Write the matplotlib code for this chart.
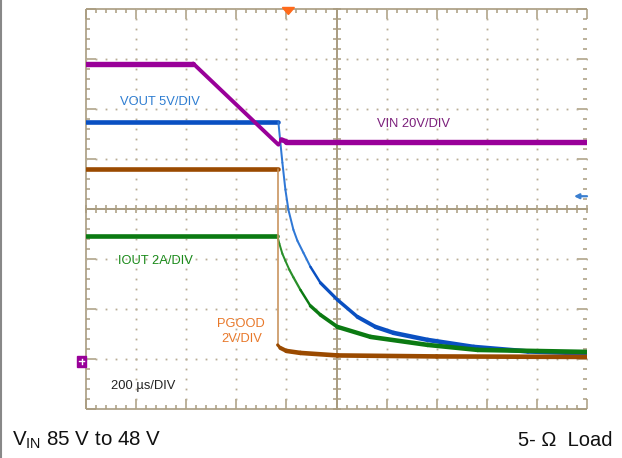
import numpy as np
import matplotlib
matplotlib.use("Agg")
import matplotlib.pyplot as plt
from matplotlib.collections import LineCollection
from matplotlib.lines import Line2D
from matplotlib.patches import Polygon, Rectangle

plt.rcParams['font.family'] = ['Liberation Sans', 'DejaVu Sans']
plt.rcParams['mathtext.fontset'] = 'custom'
plt.rcParams['mathtext.rm'] = 'Liberation Sans'

# ---- data (time in microseconds, amplitude in screen divisions) ----
vin_t = [0, 428, 768, 780, 800, 2000]
vin_v = [6.90, 6.90, 5.28, 5.38, 5.34, 5.34]

vout_t = [0, 768, 776, 784, 796, 808, 828, 844, 868, 896, 936, 1004, 1084, 1156, 1228, 1364, 1548, 1764, 2000]
vout_v = [5.73, 5.73, 5.32, 4.92, 4.38, 3.98, 3.58, 3.36, 3.12, 2.84, 2.52, 2.18, 1.84, 1.64, 1.52, 1.38, 1.24, 1.15, 1.11]

iout_t = [0, 764, 772, 784, 796, 812, 828, 856, 896, 936, 1004, 1136, 1364, 1564, 2000]
iout_v = [3.45, 3.45, 3.30, 3.10, 2.96, 2.78, 2.63, 2.38, 2.06, 1.88, 1.64, 1.44, 1.28, 1.18, 1.14]

pg_t = [0, 765, 765, 776, 800, 856, 1004, 1400, 2000]
pg_v = [4.80, 4.80, 1.28, 1.22, 1.16, 1.12, 1.07, 1.05, 1.04]

labels = ["VOUT 5V/DIV", "VIN 20V/DIV", "IOUT 2A/DIV", "PGOOD\n2V/DIV", "200 \u00b5s/DIV"]
trigger_t = 808
ground_level = 0.95
marker_level = 4.25

# ---- figure ----
W, H = 622, 458
fig = plt.figure(figsize=(W / 100, H / 100), dpi=100)
fig.patch.set_facecolor('white')
X0, X1, Y0, Y1 = 86, 587, 8.5, 409
ax = fig.add_axes([X0 / W, (H - Y1) / H, (X1 - X0) / W, (Y1 - Y0) / H])
ax.set_xlim(0, 2000)
ax.set_ylim(0, 8)
ax.axis('off')

px_x = 2000 / (X1 - X0)
px_y = 8 / (Y1 - Y0)
GC = '#a99c80'

# frame (no right edge)
for xs, ys in [([0, 0], [0, 8]), ([0, 2000], [8, 8]), ([0, 2000], [0, 0])]:
    ax.plot(xs, ys, color=GC, lw=1.2, clip_on=False, zorder=1, solid_capstyle='butt')
# center lines
ax.plot([1000, 1000], [0, 8], color=GC, lw=1.4, zorder=1, clip_on=False)
ax.plot([0, 2000], [4, 4], color=GC, lw=1.4, zorder=1, clip_on=False)

minor_x = np.arange(0, 2001, 40)
minor_y = np.round(np.arange(0, 8.001, 0.2), 3)
segs = []
for x in minor_x:
    major = abs(x % 200) < 1e-6
    L = (10 if major else 4) * px_y
    segs.append([(x, 8), (x, 8 - L)])
    segs.append([(x, 0), (x, L)])
    segs.append([(x, 4 - 4 * px_y), (x, 4 + 4 * px_y)])
for y in minor_y:
    major = abs(y - round(y)) < 1e-6
    L = (10 if major else 4) * px_x
    segs.append([(0, y), (L, y)])
    segs.append([(2000, y), (2000 - L, y)])
    segs.append([(1000 - 4 * px_x, y), (1000 + 4 * px_x, y)])
ax.add_collection(LineCollection(segs, colors=GC, linewidths=1.1, zorder=1, clip_on=False))

# dotted grid
dx, dy = [], []
for gx in range(200, 2000, 200):
    if gx == 1000:
        continue
    dx += [gx] * len(minor_y)
    dy += list(minor_y)
for gy in range(1, 8):
    if gy == 4:
        continue
    dx += list(minor_x)
    dy += [gy] * len(minor_x)
ax.plot(dx, dy, 's', color='#b8ad95', ms=1.3, mew=0, zorder=1)


def trace(t, v, color, thin_color, wmax, wmin, z):
    t = np.asarray(t, float)
    v = np.asarray(v, float)
    pts = ax.transData.transform(np.column_stack([t, v]))
    ddx = np.diff(pts[:, 0])
    ddy = np.diff(pts[:, 1])
    s = ddy / np.maximum(np.abs(ddx), 1e-6)
    w = np.maximum(wmin, wmax / np.sqrt(1 + s ** 2))
    cols = [color if wi >= 2.4 else thin_color for wi in w]
    sg = [[(t[i], v[i]), (t[i + 1], v[i + 1])] for i in range(len(t) - 1)]
    lc = LineCollection(sg, linewidths=w * 0.72, colors=cols, capstyle='round',
                        joinstyle='round', zorder=z)
    ax.add_collection(lc)


trace(vout_t, vout_v, '#0a50c2', '#2f78d6', 4.6, 2.0, 3)
trace(iout_t, iout_v, '#0b7a12', '#2a8f2a', 4.6, 2.0, 4)
trace(pg_t, pg_v, '#9a4a00', '#c8915a', 4.6, 1.6, 5)
trace(vin_t, vin_v, '#990099', '#a020a0', 5.4, 2.0, 6)

# labels
fs = 9.3
ax.text(296, 6.13, labels[0], color='#2e7dd1', fontsize=fs, ha='center', va='center', zorder=7)
ax.text(1306, 5.70, labels[1], color='#7b1f7b', fontsize=fs, ha='center', va='center', zorder=7)
ax.text(278, 2.95, labels[2], color='#1a8a1a', fontsize=fs, ha='center', va='center', zorder=7)
ax.text(620, 1.55, labels[3], color='#e8782a', fontsize=fs, ha='center', va='center',
        linespacing=1.35, zorder=7)
ax.text(228, 0.45, labels[4], color='#222222', fontsize=fs, ha='center', va='center', zorder=7)

# trigger marker
ax.add_patch(Polygon([(trigger_t - 24, 8 + 1 * px_y), (trigger_t + 24, 8 + 1 * px_y),
                      (trigger_t, 8 - 6 * px_y)], closed=True, color='#ff6a1a',
                     clip_on=False, zorder=8))
# ground marker
ax.add_patch(Rectangle((-9 * px_x, ground_level - 5.5 * px_y), 9 * px_x, 11 * px_y,
                       color='#990099', clip_on=False, zorder=8))
ax.plot([-7 * px_x, -2 * px_x], [ground_level, ground_level], color='white', lw=1.0,
        clip_on=False, zorder=9)
ax.plot([-4.5 * px_x, -4.5 * px_x], [ground_level - 2.5 * px_y, ground_level + 2.5 * px_y],
        color='white', lw=1.0, clip_on=False, zorder=9)
# right-side arrow
ax.annotate('', xy=(2000 - 13 * px_x, marker_level), xytext=(2000, marker_level),
            arrowprops=dict(arrowstyle='-|>', color='#3a7fd0', lw=1.6,
                            mutation_scale=7, shrinkA=0, shrinkB=0),
            annotation_clip=False, zorder=8)

# bottom captions
fig.text(12 / W, 1 - 440 / H, r'$\mathregular{V_{IN}}$ 85 V to 48 V', fontsize=14.8,
         ha='left', va='center', color='#111111')
fig.text(612 / W, 1 - 440 / H, '5- \u03a9  Load', fontsize=14.5, ha='right', va='center',
         color='#111111')

# left border line
fig.add_artist(Line2D([1 / W, 1 / W], [0, 1], color='#888888', lw=1.5, transform=fig.transFigure))

fig.savefig('out.png', dpi=100, facecolor='white')
